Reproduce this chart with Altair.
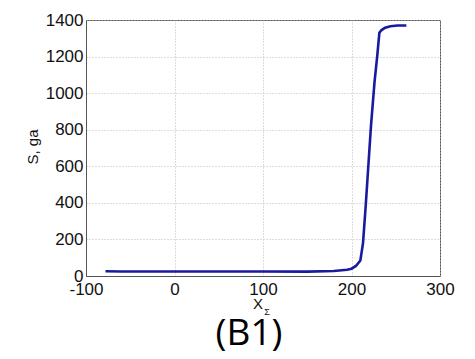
import altair as alt
import pandas as pd

xs = [-78, -60, -40, 0, 50, 100, 150, 180, 195, 200, 205, 210, 213, 216, 219, 222, 226, 229, 231.5, 234, 238, 244, 252, 262]
ys = [26, 25, 25, 25, 25, 25, 24, 27, 34, 40, 55, 85, 180, 380, 600, 820, 1060, 1200, 1330, 1345, 1358, 1366, 1370, 1370]

df = pd.DataFrame({"x": xs, "y": ys})

W, H = 354, 256

line = alt.Chart(df).mark_line(color="#1a1a9e", strokeWidth=2.6).encode(
    x=alt.X("x:Q", scale=alt.Scale(domain=[-100, 300], nice=False),
            axis=alt.Axis(values=[-100, 0, 100, 200, 300], title=None, grid=True,
                          labelExpr="'' + datum.value", labelFlush=False,
                          gridDash=[1, 2], gridColor="#bbbbbb", tickSize=0,
                          labelFontSize=17, labelFont="Liberation Sans", labelColor="#111",
                          labelPadding=5, domainColor="#555")),
    y=alt.Y("y:Q", scale=alt.Scale(domain=[0, 1400], nice=False),
            axis=alt.Axis(values=list(range(0, 1401, 200)), title=None, grid=True,
                          labelExpr="'' + datum.value", labelFlush=False,
                          gridDash=[1, 2], gridColor="#bbbbbb", tickSize=0,
                          labelFontSize=17, labelFont="Liberation Sans", labelColor="#111",
                          labelPadding=3, domainColor="#555")),
)

ytitle = alt.Chart(pd.DataFrame({"t": ["S, ga"]})).mark_text(
    angle=270, fontSize=15, font="Liberation Sans", color="#111", baseline="middle", align="center"
).encode(text="t:N", x=alt.value(-53), y=alt.value(127))

xt = alt.Chart(pd.DataFrame({"t": ["X"]})).mark_text(
    fontSize=15, font="Liberation Sans", color="#111", baseline="middle", align="center"
).encode(text="t:N", x=alt.value(172), y=alt.value(284))

sig = alt.Chart(pd.DataFrame({"t": ["Σ"]})).mark_text(
    fontSize=9, font="Liberation Sans", color="#111", baseline="middle", align="center"
).encode(text="t:N", x=alt.value(181), y=alt.value(292))

cap = alt.Chart(pd.DataFrame({"t": ["(В1)"]})).mark_text(
    fontSize=37, font="Open Sans", color="#000", baseline="middle", align="center"
).encode(text="t:N", x=alt.value(163), y=alt.value(314))

chart = alt.layer(line, ytitle, xt, sig, cap).properties(
    width=W, height=H,
    autosize=alt.AutoSizeParams(type="none"),
    padding={"left": 86, "top": 20, "right": 35, "bottom": 83},
    background="white",
).configure_view(stroke="#555", strokeWidth=1)

chart.save("out.html", embed_options={"renderer": "svg", "actions": False})
